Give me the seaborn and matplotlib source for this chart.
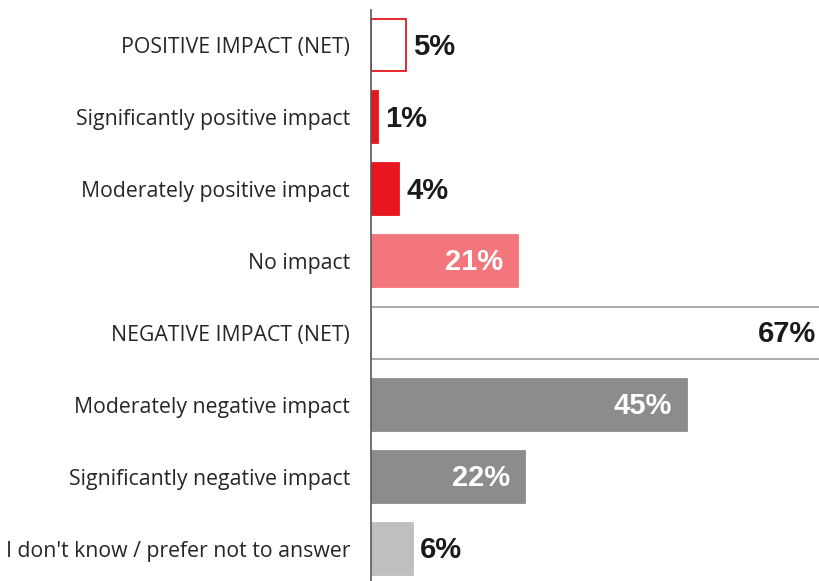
import matplotlib
matplotlib.use("Agg")
import matplotlib.pyplot as plt
import pandas as pd
import seaborn as sns

categories = [
    "POSITIVE IMPACT (NET)",
    "Significantly positive impact",
    "Moderately positive impact",
    "No impact",
    "NEGATIVE IMPACT (NET)",
    "Moderately negative impact",
    "Significantly negative impact",
    "I don't know / prefer not to answer",
]
values = [5, 1, 4, 21, 67, 45, 22, 6]
labels = ["5%", "1%", "4%", "21%", "67%", "45%", "22%", "6%"]

fills = ["#FFFFFF", "#E8161E", "#E8161E", "#F2767C",
         "#FFFFFF", "#8C8C8C", "#8C8C8C", "#BFBFBF"]
edges = ["#E8161E", "#E8161E", "#E8161E", "#F2767C",
         "#A6A6A6", "#8C8C8C", "#8C8C8C", "#BFBFBF"]
# where the number goes: outside the bar, inside (white), or special
label_pos = ["out", "out", "out", "in", "edge", "in", "in", "out"]

df = pd.DataFrame({"cat": categories, "val": values})

sns.set_style("white")
plt.rcParams["font.family"] = ["Open Sans", "DejaVu Sans"]

fig = plt.figure(figsize=(8.19, 5.81), dpi=100)
ax = fig.add_axes([371 / 819, 0, 1 - 371 / 819, 571 / 581])

sns.barplot(data=df, y="cat", x="val", hue="cat", palette=fills,
            legend=False, width=0.72, orient="h", ax=ax, saturation=1)

for patch, ec in zip(ax.patches, edges):
    patch.set_edgecolor(ec)
    patch.set_linewidth(1.3)

ax.set_xlim(0, (819 - 371) / 7.02)
ax.set_ylim(7.45, -0.49)

# value labels
px = 1 / 7.02  # one pixel in data units
for i, (v, lab, pos) in enumerate(zip(values, labels, label_pos)):
    kw = dict(fontsize=21, fontweight="bold", va="center",
              family=["Liberation Sans", "DejaVu Sans"])
    if pos == "out":
        ax.text(v + 7 * px, i + 0.02, lab, ha="left", color="#1A1A1A", **kw)
    elif pos == "in":
        ax.text(v - 15 * px, i + 0.02, lab, ha="right", color="white", **kw)
    else:
        # bar runs past the right edge, keep the number just inside it
        ax.text(v - 25 * px, i + 0.02, lab, ha="right", color="#1A1A1A",
                clip_on=False, **kw)

ax.set_xlabel("")
ax.set_ylabel("")
ax.set_xticks([])
ax.tick_params(axis="y", length=0, pad=15, labelsize=15.3, labelcolor="#262626")

for s in ["top", "right", "bottom"]:
    ax.spines[s].set_visible(False)
ax.spines["left"].set_color("#595959")
ax.spines["left"].set_linewidth(1.2)

fig.savefig("out.png", dpi=100)
